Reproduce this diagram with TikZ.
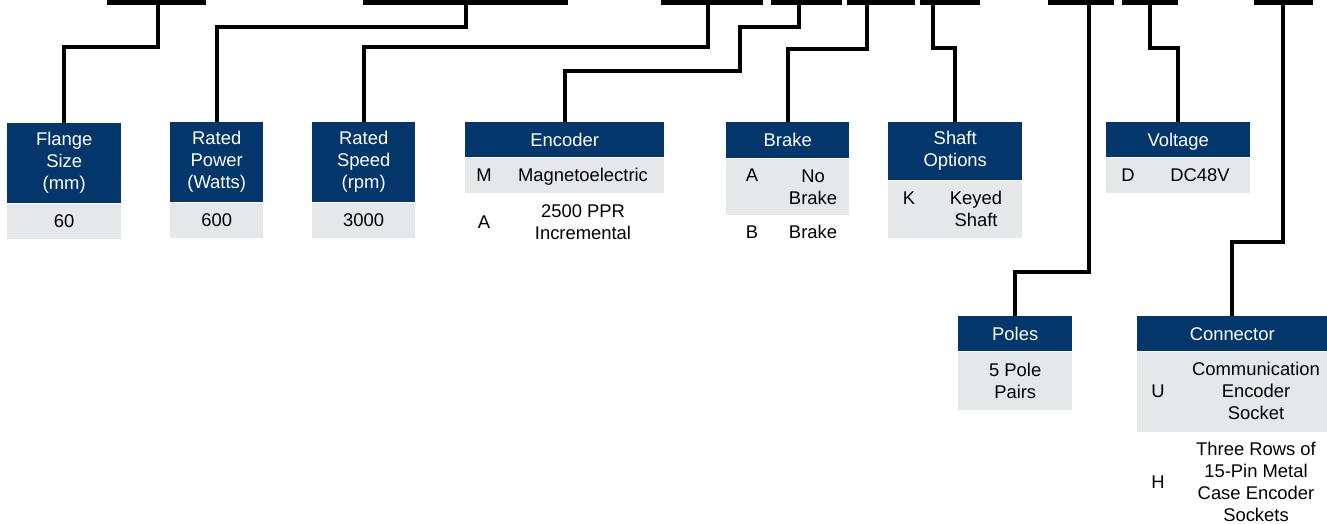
\documentclass[tikz,border=0pt]{standalone}
\usepackage{fontspec}
\setmainfont{Liberation Sans}
\definecolor{navy}{HTML}{03366B}
\definecolor{lgray}{HTML}{E6E7E9}
\begin{document}
\begin{tikzpicture}[x=1pt,y=-1pt,
  every node/.style={font=\fontsize{18.4}{22}\selectfont, inner sep=0pt, align=center},
  bar/.style={fill=black, draw=none, anchor=north west, minimum height=5pt},
  hdr/.style={fill=navy, text=white, anchor=north west},
  onehdr/.style={hdr, text height=13pt, text depth=0pt},
  body/.style={fill=lgray, anchor=north west},
  bl/.style={anchor=base},
  conn/.style={line width=4pt}]
\useasboundingbox (0,0) rectangle (1327,523);
% code bars
\node[bar, minimum width=99pt] (bar1) at (107,0) {};
\node[bar, minimum width=205pt] (bar2) at (363,0) {};
\node[bar, minimum width=102pt] (bar3) at (661,0) {};
\node[bar, minimum width=71pt] (bar4) at (771,0) {};
\node[bar, minimum width=68pt] (bar5) at (847,0) {};
\node[bar, minimum width=60pt] (bar6) at (920,0) {};
\node[bar, minimum width=66pt] (bar7) at (1048,0) {};
\node[bar, minimum width=56pt] (bar8) at (1122,0) {};
\node[bar, minimum width=59pt] (bar9) at (1254,0) {};
% Flange
\node[hdr, minimum width=114pt, minimum height=80pt] (flangeH) at (7,123) {Flange\\Size\\(mm)};
\node[body, minimum width=114pt, minimum height=35pt] (flangeB) at (flangeH.south west) {60};
% Power
\node[hdr, minimum width=93pt, minimum height=80pt] (powerH) at (170,122) {Rated\\Power\\(Watts)};
\node[body, minimum width=93pt, minimum height=35pt] (powerB) at (powerH.south west) {600};
% Speed
\node[hdr, minimum width=103pt, minimum height=80pt] (speedH) at (312,122) {Rated\\Speed\\(rpm)};
\node[body, minimum width=103pt, minimum height=35pt] (speedB) at (speedH.south west) {3000};
% Encoder
\node[onehdr, minimum width=199pt, minimum height=35pt] (encH) at (465,122) {Encoder};
\node[body, minimum width=199pt, minimum height=35pt] (encB) at (encH.south west) {};
\node[bl] (encM) at (484,181.5) {M};
\node[bl] (encMt) at (583,181.5) {Magnetoelectric};
\node[bl] (encA) at (484,228.5) {A};
\node (encAt) at (583,222) {2500 PPR\\Incremental};
% Brake
\node[onehdr, minimum width=123pt, minimum height=36pt] (brakeH) at (726,122) {Brake};
\node[body, minimum width=123pt, minimum height=56pt] (brakeB) at (brakeH.south west) {};
\node[bl] (brkA) at (752,181.5) {A};
\node (brkAt) at (813,187) {No\\Brake};
\node[bl] (brkB) at (752,238.5) {B};
\node[bl] (brkBt) at (813,238.5) {Brake};
% Shaft
\node[hdr, minimum width=134pt, minimum height=58pt] (shaftH) at (888,122) {Shaft\\Options};
\node[body, minimum width=134pt, minimum height=57pt] (shaftB) at (shaftH.south west) {};
\node[bl] (shfK) at (909,204.5) {K};
\node (shfKt) at (976,209) {Keyed\\Shaft};
% Voltage
\node[onehdr, minimum width=144pt, minimum height=35pt] (voltH) at (1106,122) {Voltage};
\node[body, minimum width=144pt, minimum height=35pt] (voltB) at (voltH.south west) {};
\node[bl] (volD) at (1128,181.5) {D};
\node[bl] (volDt) at (1200,181.5) {DC48V};
% Poles
\node[onehdr, minimum width=114pt, minimum height=35pt] (polesH) at (958,316) {Poles};
\node[body, minimum width=114pt, minimum height=58pt] (polesB) at (polesH.south west) {5 Pole\\Pairs};
% Connector
\node[onehdr, minimum width=190pt, minimum height=35pt] (connH) at (1137,316) {Connector};
\node[body, minimum width=190pt, minimum height=80pt] (connB) at (connH.south west) {};
\node[bl] (conU) at (1158,397.5) {U};
\node (conUt) at (1256,391) {Communication\\Encoder\\Socket};
\node[bl] (conH) at (1158,488.5) {H};
\node (conHt) at (1256,481.5) {Three Rows of\\15-Pin Metal\\Case Encoder\\Sockets};
% connectors
\draw[conn] (bar1.center -| 158,0) |- (flangeH.north |- 0,47) -- (flangeH.north);
\draw[conn] (bar2.center -| 466,0) |- (powerH.north |- 0,27) -- (powerH.north);
\draw[conn] (bar3.center -| 708,0) |- (speedH.north |- 0,47) -- (speedH.north);
\draw[conn] (bar4.center -| 799,0) |- (740,27) |- (encH.north |- 0,71) -- (encH.north);
\draw[conn] (bar5.center -| 867,0) |- (brakeH.north |- 0,49) -- (brakeH.north);
\draw[conn] (bar6.center -| 933,0) |- (shaftH.north |- 0,48) -- (shaftH.north);
\draw[conn] (bar7.center -| 1089,0) |- (polesH.north |- 0,272) -- (polesH.north);
\draw[conn] (bar8.center -| 1150,0) |- (voltH.north |- 0,48) -- (voltH.north);
\draw[conn] (bar9.center -| 1283,0) |- (connH.north |- 0,242) -- (connH.north);
\end{tikzpicture}
\end{document}
